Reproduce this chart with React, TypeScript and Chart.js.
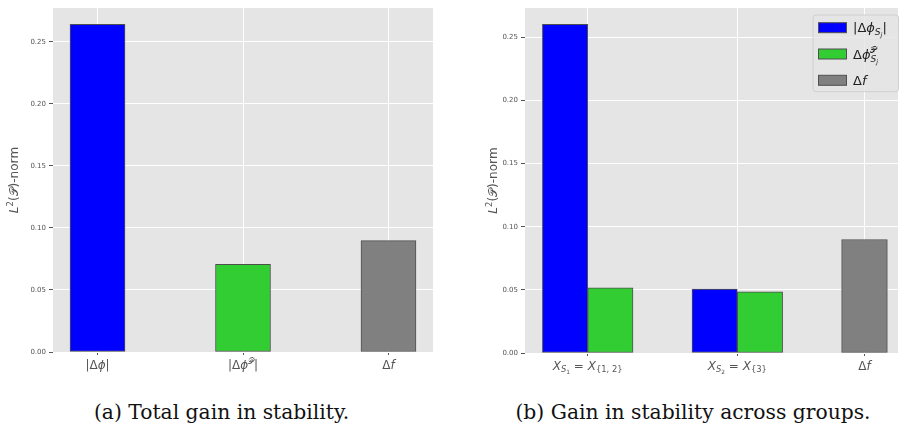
import React, { useEffect, useRef } from "react";
import { Chart, registerables } from "chart.js";

Chart.register(...registerables);

// ---------- data ----------
const leftCategories = ["$|Δϕ|$", "$|Δϕ^𝒫|$", "$Δf$"];
const leftPositions = [0, 1, 2];
const leftValues = [0.264, 0.0707, 0.0898];

const rightCategories = ["$X_{S_1} = X_{\\{1, 2\\}}$", "$X_{S_2} = X_{\\{3\\}}$", "$Δf$"];
const rightPositions = [0, 1, 1.85];
const absGroupValues = [0.2603, 0.0506];
const projGroupValues = [0.0517, 0.0485];
const deltaFValues = [0.0899];

const legendLabels = ["$|Δϕ_{S_j}|$", "$Δϕ^𝒫_{S_j}$", "$Δf$"];
const yTicks = [0, 0.05, 0.1, 0.15, 0.2, 0.25];
const yTitle = "$L^2(𝒫)$-norm";
const captions = ["(a) Total gain in stability.", "(b) Gain in stability across groups."];

// ---------- style ----------
const PLOT_BG = "#E5E5E5";
const TEXT = "#555555";
const EDGE = "#4f4f4f";
const BLUE = "#0000FF";
const GREEN = "#32CD32";
const GRAY = "#808080";
const MATH_FONT = '"DejaVu Sans"';

// ---------- tiny math text renderer ----------
type MNode = { t: string; it: boolean } | { sup?: MNode[]; sub?: MNode[] };

function parseMath(s: string): MNode[] {
  let i = 0;
  let math = false;
  const readChar = () => {
    const cp = s.codePointAt(i)!;
    const ch = String.fromCodePoint(cp);
    i += ch.length;
    return ch;
  };
  const leaf = (ch: string): MNode => ({ t: ch, it: math && /[A-Za-zα-ωϕ]/.test(ch) });
  const group = (): MNode[] => {
    if (s[i] === "{") {
      i++;
      const r = seq("}");
      i++;
      return r;
    }
    if (s[i] === "\\") {
      i++;
      return [leaf(readChar())];
    }
    return [leaf(readChar())];
  };
  const seq = (end?: string): MNode[] => {
    const out: MNode[] = [];
    while (i < s.length && s[i] !== end) {
      const c = s[i];
      if (c === "$") {
        math = !math;
        i++;
      } else if (math && (c === "_" || c === "^")) {
        i++;
        const g = group();
        const key = c === "_" ? "sub" : "sup";
        const last: any = out[out.length - 1];
        if (last && !("t" in last) && !last[key]) last[key] = g;
        else out.push({ [key]: g } as MNode);
      } else if (c === "\\") {
        i++;
        out.push(leaf(readChar()));
      } else {
        out.push(leaf(readChar()));
      }
    }
    return out;
  };
  return seq();
}

function renderMath(ctx: CanvasRenderingContext2D, nodes: MNode[], x: number, y: number, size: number, draw: boolean): number {
  let cx = x;
  for (const n of nodes) {
    if ("t" in n) {
      ctx.font = `${n.it ? "italic " : ""}${size}px ${MATH_FONT}`;
      if (draw) ctx.fillText(n.t, cx, y);
      cx += ctx.measureText(n.t).width;
    } else {
      const ss = size * 0.7;
      let w = 0;
      if (n.sup) w = Math.max(w, renderMath(ctx, n.sup, cx, y - size * (n.sub ? 0.45 : 0.38), ss, draw));
      if (n.sub) w = Math.max(w, renderMath(ctx, n.sub, cx, y + size * (n.sup ? 0.28 : 0.2), ss, draw));
      cx += w;
    }
  }
  return cx - x;
}

function drawMath(ctx: CanvasRenderingContext2D, text: string, x: number, y: number, size: number, align: "left" | "center") {
  const nodes = parseMath(text);
  ctx.textAlign = "left";
  ctx.textBaseline = "alphabetic";
  const w = renderMath(ctx, nodes, 0, 0, size, false);
  const sx = align === "center" ? x - w / 2 : x;
  renderMath(ctx, nodes, sx, y, size, true);
}

// ---------- plugin ----------
type PluginOpts = {
  labels: string[];
  positions: number[];
  titleBaselineX: number;
  legend?: { labels: string[]; colors: string[] };
};

function mathPlugin(o: PluginOpts) {
  return {
    id: "mathDecor",
    beforeDraw(chart: any) {
      const { ctx, chartArea: a } = chart;
      ctx.save();
      ctx.fillStyle = PLOT_BG;
      ctx.fillRect(a.left, a.top, a.right - a.left, a.bottom - a.top);
      ctx.restore();
    },
    afterDraw(chart: any) {
      const { ctx, chartArea: a } = chart;
      const xs = chart.scales.x;
      ctx.save();
      ctx.fillStyle = TEXT;
      o.labels.forEach((lab, i) => {
        drawMath(ctx, lab, xs.getPixelForValue(o.positions[i]), a.bottom + 17, 12, "center");
      });
      // y title
      ctx.save();
      ctx.translate(o.titleBaselineX, (a.top + a.bottom) / 2);
      ctx.rotate(-Math.PI / 2);
      drawMath(ctx, yTitle, 0, 0, 12, "center");
      ctx.restore();
      // legend
      if (o.legend) {
        const bw = 85.5;
        const bh = 76.7;
        const bx = a.right + 0.5 - bw;
        const by = a.top + 7;
        ctx.beginPath();
        ctx.roundRect(bx, by, bw, bh, 3);
        ctx.fillStyle = "rgba(229,229,229,0.8)";
        ctx.fill();
        ctx.strokeStyle = "#D0D0D0";
        ctx.lineWidth = 1;
        ctx.stroke();
        o.legend.labels.forEach((lab, i) => {
          const cy = by + 12.7 + i * 26.3;
          ctx.fillStyle = o.legend!.colors[i];
          ctx.fillRect(bx + 5.5, cy - 5, 28, 10);
          ctx.strokeStyle = EDGE;
          ctx.strokeRect(bx + 5.5, cy - 5, 28, 10);
          ctx.fillStyle = "#222222";
          drawMath(ctx, lab, bx + 40, cy + 4.5, 13, "left");
        });
      }
      ctx.restore();
    },
  };
}

function buildScales(xMin: number, xMax: number, positions: number[], yMax: number, yAxisWidth: number, xAxisHeight: number) {
  return {
    x: {
      type: "linear",
      min: xMin,
      max: xMax,
      offset: false,
      afterBuildTicks: (s: any) => {
        s.ticks = positions.map((v) => ({ value: v }));
      },
      afterFit: (s: any) => {
        s.height = xAxisHeight;
      },
      ticks: { display: false },
      grid: { offset: false, color: "#FFFFFF", lineWidth: 1, tickColor: TEXT, tickLength: 3 },
      border: { display: false },
    },
    y: {
      type: "linear",
      min: 0,
      max: yMax,
      afterBuildTicks: (s: any) => {
        s.ticks = yTicks.map((v) => ({ value: v }));
      },
      afterFit: (s: any) => {
        s.width = yAxisWidth;
      },
      ticks: {
        color: TEXT,
        font: { family: "DejaVu Sans", size: 7 },
        padding: 3,
        callback: (v: any) => Number(v).toFixed(2),
      },
      grid: { color: "#FFFFFF", lineWidth: 1, tickColor: TEXT, tickLength: 4 },
      border: { display: false },
    },
  };
}

const barStyle = { borderColor: EDGE, borderWidth: 1, borderSkipped: false as const };

function leftConfig(): any {
  const yMax = Math.max(...leftValues) * 1.05;
  return {
    type: "bar",
    data: {
      datasets: [
        {
          data: leftPositions.map((p, i) => ({ x: p, y: leftValues[i] })),
          backgroundColor: [BLUE, GREEN, GRAY],
          barThickness: 55,
          ...barStyle,
        },
      ],
    },
    options: {
      responsive: false,
      animation: false,
      events: [],
      layout: { padding: { left: 0, top: 8, right: 12, bottom: 0 } },
      plugins: { legend: { display: false }, tooltip: { enabled: false } },
      scales: buildScales(-0.306, 2.306, leftPositions, yMax, 53, 28),
    },
    plugins: [mathPlugin({ labels: leftCategories, positions: leftPositions, titleBaselineX: 18 })],
  };
}

function rightConfig(): any {
  const yMax = Math.max(...absGroupValues, ...projGroupValues, ...deltaFValues) * 1.05;
  return {
    type: "bar",
    data: {
      datasets: [
        {
          data: absGroupValues.map((v, i) => ({ x: rightPositions[i], y: v })),
          backgroundColor: BLUE,
          barThickness: 45.3,
          ...barStyle,
        },
        {
          data: projGroupValues.map((v, i) => ({ x: rightPositions[i], y: v })),
          backgroundColor: GREEN,
          barThickness: 45.3,
          ...barStyle,
        },
        {
          data: deltaFValues.map((v) => ({ x: rightPositions[2], y: v })),
          backgroundColor: GRAY,
          barThickness: 45.7,
          grouped: false,
          ...barStyle,
        },
      ],
    },
    options: {
      responsive: false,
      animation: false,
      events: [],
      layout: { padding: { left: 0, top: 8, right: 1, bottom: 0 } },
      plugins: { legend: { display: false }, tooltip: { enabled: false } },
      scales: buildScales(-0.419, 2.074, rightPositions, yMax, 75, 27),
    },
    plugins: [
      mathPlugin({
        labels: rightCategories,
        positions: rightPositions,
        titleBaselineX: 47,
        legend: { labels: legendLabels, colors: [BLUE, GREEN, GRAY] },
      }),
    ],
  };
}

function ChartPanel({ left, width, height, build }: { left: number; width: number; height: number; build: () => any }) {
  const ref = useRef<HTMLCanvasElement>(null);
  useEffect(() => {
    const chart = new Chart(ref.current!, build());
    return () => chart.destroy();
  }, []);
  return (
    <canvas
      ref={ref}
      width={width}
      height={height}
      style={{ position: "absolute", left, top: 0, width, height, display: "block" }}
    />
  );
}

const captionStyle: React.CSSProperties = {
  position: "absolute",
  top: 400,
  height: 24,
  lineHeight: "24px",
  fontFamily: '"DejaVu Serif", serif',
  fontSize: 20.3,
  color: "#111",
  textAlign: "center",
  whiteSpace: "nowrap",
};

export default function App() {
  return (
    <div style={{ position: "absolute", left: 0, top: 0, width: 899, height: 429, background: "#fff", overflow: "hidden" }}>
      <ChartPanel left={0} width={445} height={380} build={leftConfig} />
      <ChartPanel left={450} width={449} height={380} build={rightConfig} />
      <div style={{ ...captionStyle, left: 21.5, width: 400 }}>{captions[0]}</div>
      <div style={{ ...captionStyle, left: 493, width: 400 }}>{captions[1]}</div>
    </div>
  );
}
